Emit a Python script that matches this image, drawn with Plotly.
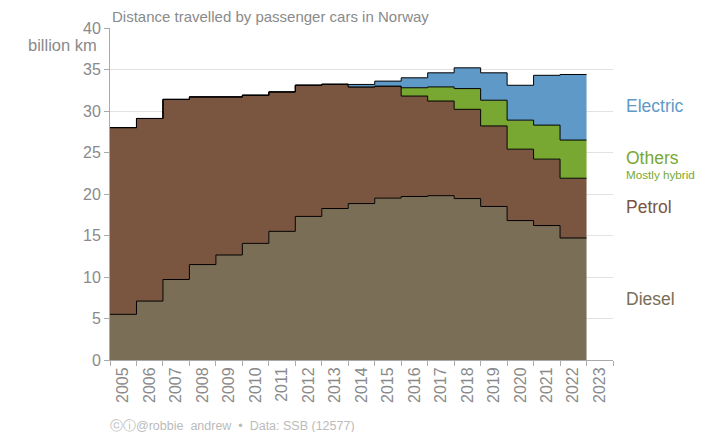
import plotly.graph_objects as go

# 年度 (step plot: each value spans year -> year+1)
years = list(range(2005, 2023))

# billion km
diesel = [5.5, 7.1, 9.7, 11.5, 12.65, 14.05, 15.5, 17.3, 18.25, 18.85,
          19.5, 19.7, 19.8, 19.45, 18.5, 16.8, 16.2, 14.7]
petrol = [22.5, 22.0, 21.7, 20.2, 19.05, 17.85, 16.8, 15.8, 14.95, 14.05,
          13.5, 12.1, 11.4, 10.75, 9.7, 8.6, 8.0, 7.2]
others = [0, 0, 0, 0, 0, 0, 0, 0, 0, 0,
          0, 1.0, 1.7, 2.5, 3.1, 3.5, 4.1, 4.6]
electric = [0, 0, 0, 0, 0, 0, 0, 0.02, 0.05, 0.3,
            0.6, 1.2, 1.7, 2.5, 3.3, 4.2, 6.0, 7.9]

series = [
    ("Diesel", diesel, "#7a6e57"),
    ("Petrol", petrol, "#7a553f"),
    ("Others", others, "#78a832"),
    ("Electric", electric, "#5f99c8"),
]

GREY = "#8a8a8a"
FONT = "Liberation Sans, Arial, sans-serif"

# extend to the end of the last year so the final step is drawn
x_steps = years + [years[-1] + 1]

fig = go.Figure()
for name, vals, col in series:
    fig.add_trace(go.Scatter(
        x=x_steps,
        y=vals + [vals[-1]],
        name=name,
        mode="lines",
        line=dict(shape="hv", color="black", width=1),
        fillcolor=col,
        stackgroup="one",
        hovertemplate=name + " %{x}: %{y} billion km<extra></extra>",
    ))

label_years = years + [years[-1] + 1]
fig.update_xaxes(
    range=[2005, 2024],
    tickmode="array",
    tickvals=[y + 0.5 for y in label_years],
    ticktext=[str(y) for y in label_years],
    tickangle=-90,
    ticks="",
    tickfont=dict(size=16, color=GREY, family=FONT),
    showgrid=False,
    zeroline=False,
    showline=True,
    linecolor="#aaaaaa",
    linewidth=1,
    minor=dict(
        tickmode="array",
        tickvals=list(range(2005, 2025)),
        ticks="outside",
        ticklen=5,
        tickcolor="#aaaaaa",
        showgrid=False,
    ),
)
fig.update_yaxes(
    range=[0, 40],
    tickvals=list(range(0, 45, 5)),
    ticks="outside",
    ticklen=5,
    tickcolor="#aaaaaa",
    tickfont=dict(size=16, color=GREY, family=FONT),
    showgrid=True,
    gridcolor="#e2e2e2",
    gridwidth=1,
    zeroline=False,
    showline=True,
    linecolor="#aaaaaa",
    linewidth=1,
)

annotations = [
    dict(text="Distance travelled by passenger cars in Norway", xref="paper", yref="paper",
         x=0, y=1, xanchor="left", yanchor="bottom", yshift=1, showarrow=False,
         font=dict(size=15, color=GREY, family=FONT)),
    dict(text="billion km", xref="paper", yref="y", x=0, y=38, xanchor="right", yanchor="middle",
         xshift=-11, showarrow=False, font=dict(size=16.5, color=GREY, family=FONT)),
    dict(text="Electric", xref="paper", yref="y", x=1.022, y=30.6, xanchor="left",
         showarrow=False, font=dict(size=17.5, color="#5f99c8", family=FONT)),
    dict(text="Others", xref="paper", yref="y", x=1.022, y=24.3, xanchor="left",
         showarrow=False, font=dict(size=17.5, color="#78a832", family=FONT)),
    dict(text="Mostly hybrid", xref="paper", yref="y", x=1.022, y=22.3, xanchor="left",
         showarrow=False, font=dict(size=11.7, color="#78a832", family=FONT)),
    dict(text="Petrol", xref="paper", yref="y", x=1.022, y=18.4, xanchor="left",
         showarrow=False, font=dict(size=17.5, color="#7a553f", family=FONT)),
    dict(text="Diesel", xref="paper", yref="y", x=1.022, y=7.4, xanchor="left",
         showarrow=False, font=dict(size=17.5, color="#7a6e57", family=FONT)),
    dict(text="ⓒⓘ@robbie_andrew  •  Data: SSB (12577)", xref="paper", yref="paper",
         x=-0.004, y=0, xanchor="left", yanchor="middle", yshift=-66, showarrow=False,
         font=dict(size=12.5, color="#bbbbbb", family=FONT)),
]

# the page body adds an 8px margin, so the figure is sized to fit inside the window
fig.update_layout(
    width=709,
    height=424,
    margin=dict(l=102, r=104, t=18, b=72),
    plot_bgcolor="white",
    paper_bgcolor="white",
    showlegend=False,
    annotations=annotations,
)

fig.write_html("out.html")
